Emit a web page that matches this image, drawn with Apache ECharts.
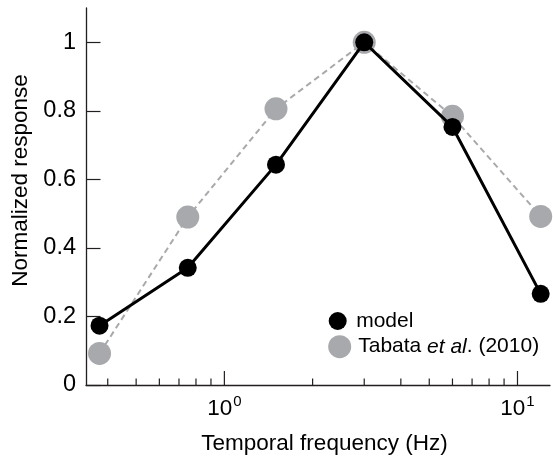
<!DOCTYPE html>
<html>
<head>
<meta charset="utf-8">
<script src="https://cdn.jsdelivr.net/npm/echarts@6/dist/echarts.min.js"></script>
<style>
html,body{margin:0;padding:0;background:#fff;}
#chart{width:553px;height:460px;}
</style>
</head>
<body>
<div id="chart"></div>
<script>
// ---- data ----
var frequencies = [0.375, 0.75, 1.5, 3, 6, 12];           // Hz
var modelResponse = [0.173, 0.342, 0.643, 1.0, 0.753, 0.266];
var tabataResponse = [0.092, 0.490, 0.806, 1.0, 0.784, 0.492];
var yTickValues = [0, 0.2, 0.4, 0.6, 0.8, 1];
var xMajorTicks = [1, 10];
var xMinorTicks = [0.4, 0.5, 0.6, 0.7, 0.8, 0.9, 2, 3, 4, 5, 6, 7, 8, 9];
var seriesNames = ['model', 'Tabata et al. (2010)'];

var FONT = '"Liberation Sans", Arial, Helvetica, sans-serif';
var AXIS_COLOR = '#231f20';
var GRAY = '#a7a9ac';

function pairs(xs, ys) { return xs.map(function (x, i) { return [x, ys[i]]; }); }

function tickSeries(values, len, name) {
  return {
    type: 'custom',
    name: name,
    silent: true,
    z: 1,
    data: values.map(function (v) { return [v, 0]; }),
    renderItem: function (params, api) {
      var p = api.coord([api.value(0), api.value(1)]);
      return {
        type: 'line',
        shape: { x1: p[0], y1: p[1], x2: p[0], y2: p[1] - len },
        style: { stroke: AXIS_COLOR, lineWidth: 1.2 }
      };
    }
  };
}

var chart = echarts.init(document.getElementById('chart'), null, { renderer: 'canvas' });

var option = {
  animation: false,
  backgroundColor: '#ffffff',
  textStyle: { fontFamily: FONT },
  grid: { left: 86, right: 0, top: 8, bottom: 70.7, containLabel: false },
  xAxis: {
    type: 'log',
    logBase: 10,
    min: 0.3372,
    max: 12.91,
    name: 'Temporal frequency (Hz)',
    nameLocation: 'middle',
    nameGap: 47,
    nameTextStyle: { fontFamily: FONT, fontSize: 22.5, color: '#000', padding: [0, 0, 0, 13] },
    axisLine: { show: true, onZero: false, lineStyle: { color: AXIS_COLOR, width: 1.3 } },
    axisTick: { show: false },
    splitLine: { show: false },
    minorTick: { show: false },
    axisLabel: {
      margin: 9,
      showMinLabel: true,
      showMaxLabel: true,
      formatter: function (v) {
        var e = Math.log10(v);
        if (Math.abs(e - Math.round(e)) < 1e-6) {
          return '{b|10}{s|' + Math.round(e) + '}';
        }
        return '';
      },
      rich: {
        b: { fontFamily: FONT, fontSize: 22.5, color: '#000', lineHeight: 26, verticalAlign: 'bottom' },
        s: { fontFamily: FONT, fontSize: 15, color: '#000', verticalAlign: 'top', padding: [0, 0, 0, 1] }
      }
    }
  },
  yAxis: {
    type: 'value',
    min: 0,
    max: 1.1,
    name: 'Normalized response',
    nameLocation: 'middle',
    nameGap: 48,
    nameRotate: 90,
    nameTextStyle: { fontFamily: FONT, fontSize: 22.5, color: '#000', padding: [0, 0, 0, 32] },
    axisLine: { show: true, lineStyle: { color: AXIS_COLOR, width: 1.3 } },
    axisTick: { show: true, inside: true, length: 14.5, customValues: yTickValues, lineStyle: { color: AXIS_COLOR, width: 1.2 } },
    splitLine: { show: false },
    axisLabel: {
      customValues: yTickValues,
      margin: 10,
      fontFamily: FONT,
      fontSize: 23.5,
      color: '#000',
      verticalAlign: 'middle',
      verticalAlignMinLabel: 'middle',
      verticalAlignMaxLabel: 'middle',
      formatter: function (v) { return String(v); }
    }
  },
  legend: [
    {
      data: [seriesNames[0]],
      orient: 'vertical',
      left: 328.7,
      top: 310.5,
      padding: 0,
      itemWidth: 27,
      itemHeight: 18,
      icon: 'circle',
      textStyle: { fontFamily: FONT, fontSize: 21, color: '#000', lineHeight: 20 },
      selectedMode: false
    },
    {
      data: [seriesNames[1]],
      orient: 'vertical',
      left: 328.2,
      top: 335.2,
      padding: 0,
      itemWidth: 27,
      itemHeight: 23,
      icon: 'circle',
      selectedMode: false,
      formatter: function () { return '{n|Tabata }{i|et al}{n|. (2010)}'; },
      textStyle: {
        fontFamily: FONT, fontSize: 21, color: '#000',
        rich: {
          n: { fontFamily: FONT, fontSize: 21, color: '#000' },
          i: { fontFamily: FONT, fontSize: 21, color: '#000', fontStyle: 'italic' }
        }
      }
    }
  ],
  series: [
    tickSeries(xMajorTicks, 14, 'majorTicks'),
    tickSeries(xMinorTicks, 6.5, 'minorTicks'),
    {
      name: seriesNames[1],
      type: 'line',
      z: 2,
      data: pairs(frequencies, tabataResponse),
      symbol: 'circle',
      symbolSize: 23,
      itemStyle: { color: GRAY },
      lineStyle: { color: GRAY, width: 2, type: [6, 4] },
      emphasis: { disabled: true }
    },
    {
      name: seriesNames[0],
      type: 'line',
      z: 3,
      data: pairs(frequencies, modelResponse),
      symbol: 'circle',
      symbolSize: 18,
      itemStyle: { color: '#000' },
      lineStyle: { color: '#000', width: 3 },
      emphasis: { disabled: true }
    }
  ]
};

chart.setOption(option);
</script>
</body>
</html>
